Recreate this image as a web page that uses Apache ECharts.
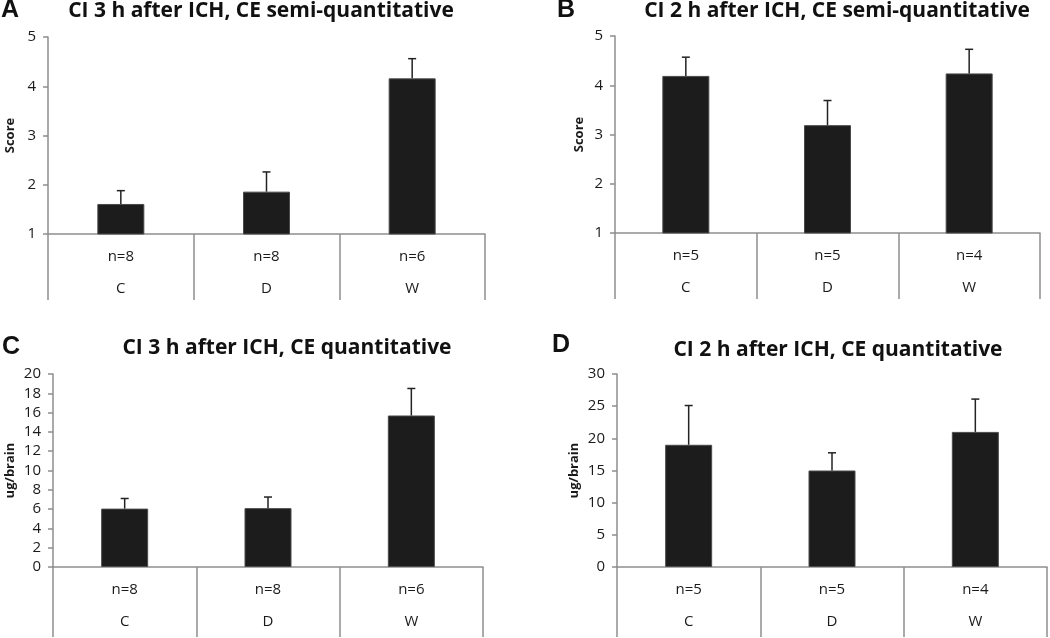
<!DOCTYPE html>
<html>
<head>
<meta charset="utf-8">
<script src="https://cdn.jsdelivr.net/npm/echarts@6/dist/echarts.min.js"></script>
<style>
  html, body { margin: 0; padding: 0; background: #fff; }
  #main { width: 1050px; height: 638px; }
</style>
</head>
<body>
<div id="main"></div>
<script>
// groups on the x axis
const categories = ["C", "D", "W"];

// A: CI 3 h, semi-quantitative
const nA = ["n=8", "n=8", "n=6"];
const meanA = [1.61, 1.86, 4.16];
const errA = [0.27, 0.4, 0.4];

// B: CI 2 h, semi-quantitative
const nB = ["n=5", "n=5", "n=4"];
const meanB = [4.19, 3.19, 4.24];
const errB = [0.38, 0.5, 0.49];

// C: CI 3 h, quantitative
const nC = ["n=8", "n=8", "n=6"];
const meanC = [6.05, 6.1, 15.7];
const errC = [1.05, 1.15, 2.8];

// D: CI 2 h, quantitative
const nD = ["n=5", "n=5", "n=4"];
const meanD = [19.0, 15.0, 21.0];
const errD = [6.1, 2.75, 5.1];

const panels = [
  { letter: "A", title: "CI 3 h after ICH, CE semi-quantitative", yName: "Score",
    n: nA, mean: meanA, err: errA, min: 1, max: 5, interval: 1,
    grid: { left: 48, top: 37, width: 437, height: 197 }, nameGap: 31, tickLen: 66,
    titlePos: [261, 11], letterPos: [10, 10] },
  { letter: "B", title: "CI 2 h after ICH, CE semi-quantitative", yName: "Score",
    n: nB, mean: meanB, err: errB, min: 1, max: 5, interval: 1,
    grid: { left: 615, top: 36, width: 425, height: 197 }, nameGap: 29, tickLen: 66,
    titlePos: [837, 11], letterPos: [566, 10] },
  { letter: "C", title: "CI 3 h after ICH, CE quantitative", yName: "ug/brain",
    n: nC, mean: meanC, err: errC, min: 0, max: 20, interval: 2,
    grid: { left: 53, top: 374, width: 430, height: 198 }, nameGap: 36, tickLen: 70,
    titlePos: [287, 348], letterPos: [11, 347] },
  { letter: "D", title: "CI 2 h after ICH, CE quantitative", yName: "ug/brain",
    n: nD, mean: meanD, err: errD, min: 0, max: 30, interval: 5,
    grid: { left: 617, top: 374, width: 430, height: 198 }, nameGap: 36, tickLen: 70,
    titlePos: [838, 350], letterPos: [561, 345] }
];

const font = "'Open Sans', Lato, sans-serif";
const axisGray = "#8e8e8e";

function errorBarItem(params, api) {
  const x = api.value(0);
  const m = api.value(1);
  const e = api.value(2);
  const base = api.coord([x, m]);
  const top = api.coord([x, m + e]);
  const hw = 4;
  const st = { stroke: "#222", lineWidth: 1.5 };
  return {
    type: "group",
    children: [
      { type: "line", shape: { x1: base[0], y1: base[1], x2: top[0], y2: top[1] }, style: st },
      { type: "line", shape: { x1: top[0] - hw, y1: top[1], x2: top[0] + hw, y2: top[1] }, style: st }
    ]
  };
}

const grid = [], xAxis = [], yAxis = [], series = [], graphic = [];

panels.forEach((p, i) => {
  grid.push(p.grid);
  xAxis.push({
    type: "category",
    gridIndex: i,
    data: categories,
    boundaryGap: true,
    axisLine: { lineStyle: { color: axisGray, width: 1.5 } },
    axisTick: { show: true, inside: false, length: p.tickLen, lineStyle: { color: axisGray, width: 1.5 } },
    axisLabel: {
      margin: 7,
      fontFamily: font,
      fontSize: 15,
      color: "#1a1a1a",
      lineHeight: 32,
      formatter: (v, idx) => p.n[idx] + "\n" + v
    }
  });
  yAxis.push({
    type: "value",
    gridIndex: i,
    min: p.min,
    max: p.max,
    interval: p.interval,
    name: p.yName,
    nameLocation: "middle",
    nameGap: p.nameGap,
    nameTextStyle: { fontFamily: font, fontWeight: "bold", fontSize: 13, color: "#1a1a1a" },
    splitLine: { show: false },
    axisLine: { show: true, lineStyle: { color: axisGray, width: 1.5 } },
    axisTick: { show: true, length: 5, lineStyle: { color: axisGray, width: 1.5 } },
    axisLabel: { margin: 12, fontFamily: font, fontSize: 15, color: "#1a1a1a" }
  });
  series.push({
    type: "bar",
    xAxisIndex: i,
    yAxisIndex: i,
    data: p.mean,
    barWidth: 47,
    clip: true,
    itemStyle: { color: "#1c1c1c", borderColor: "#4a4a4a", borderWidth: 1 }
  });
  series.push({
    type: "custom",
    xAxisIndex: i,
    yAxisIndex: i,
    renderItem: errorBarItem,
    encode: { x: 0, y: 1 },
    data: categories.map((c, k) => [k, p.mean[k], p.err[k]]),
    z: 3
  });
  graphic.push({
    type: "text",
    x: p.titlePos[0],
    y: p.titlePos[1],
    style: {
      text: p.title,
      align: "center",
      verticalAlign: "middle",
      font: "bold 21px " + font,
      fill: "#111"
    }
  });
  graphic.push({
    type: "text",
    x: p.letterPos[0],
    y: p.letterPos[1],
    style: {
      text: p.letter,
      align: "center",
      verticalAlign: "middle",
      font: "bold 25px 'Liberation Sans', Arial, sans-serif",
      fill: "#111"
    }
  });
});

const chart = echarts.init(document.getElementById("main"));
chart.setOption({
  animation: false,
  backgroundColor: "#fff",
  grid,
  xAxis,
  yAxis,
  series,
  graphic
});
</script>
</body>
</html>
